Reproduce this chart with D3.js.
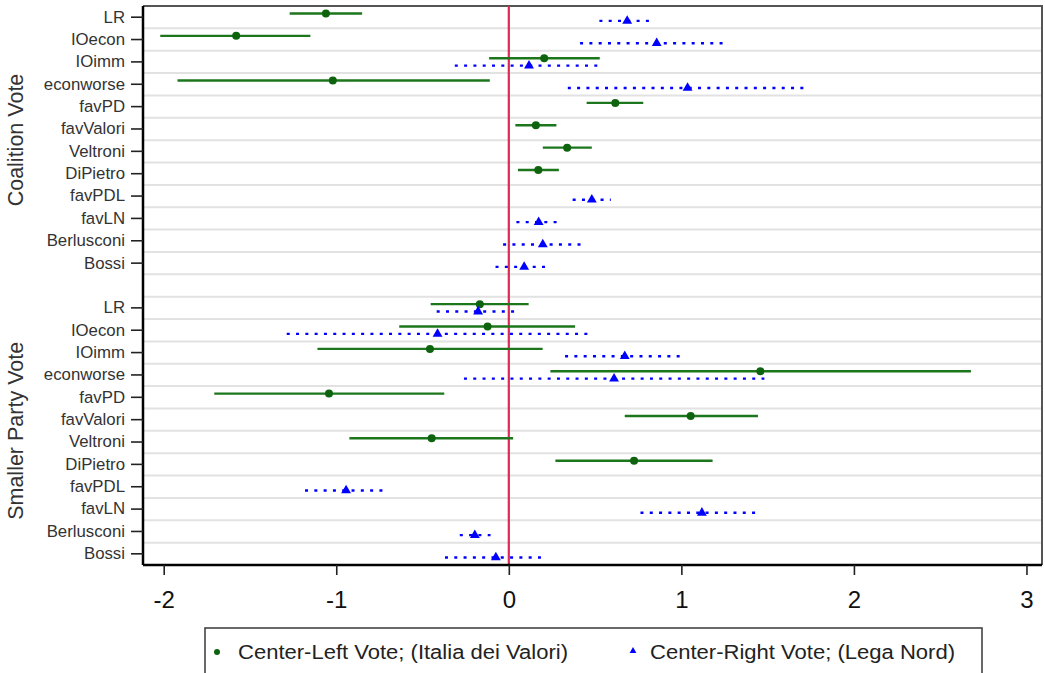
<!DOCTYPE html>
<html>
<head>
<meta charset="utf-8">
<script src="https://cdn.jsdelivr.net/npm/d3@7"></script>
<style>
  html, body { margin: 0; padding: 0; background: #fff; }
  svg { display: block; font-family: Arial, "Liberation Sans", sans-serif; }
</style>
</head>
<body>
<svg id="chart" width="1045" height="673"></svg>
<script>
// ---------- data ----------
const variables = ["LR","IOecon","IOimm","econworse","favPD","favValori","Veltroni","DiPietro","favPDL","favLN","Berlusconi","Bossi"];
const panels = ["Coalition Vote", "Smaller Party Vote"];
const xTicks = [-2, -1, 0, 1, 2, 3];
const xTickLabels = ["-2", "-1", "0", "1", "2", "3"];
const seriesNames = ["Center-Left Vote; (Italia dei Valori)", "Center-Right Vote; (Lega Nord)"];

// [estimate, lower, upper]; null = not estimated
const centerLeftCoalition = [
  [-1.06, -1.27, -0.85], [-1.58, -2.02, -1.15], [0.205, -0.114, 0.527], [-1.02, -1.92, -0.11],
  [0.617, 0.451, 0.779], [0.157, 0.038, 0.276], [0.338, 0.197, 0.481], [0.171, 0.053, 0.290],
  null, null, null, null
];
const centerRightCoalition = [
  [0.686, 0.525, 0.823], [0.857, 0.413, 1.270], [0.117, -0.313, 0.537], [1.036, 0.342, 1.738],
  null, null, null, null,
  [0.481, 0.370, 0.591], [0.173, 0.044, 0.290], [0.197, -0.033, 0.425], [0.089, -0.077, 0.223]
];
const centerLeftSmaller = [
  [-0.168, -0.453, 0.115], [-0.123, -0.635, 0.384], [-0.457, -1.109, 0.196], [1.458, 0.241, 2.678],
  [-1.042, -1.707, -0.374], [1.054, 0.672, 1.444], [-0.447, -0.924, 0.025], [0.726, 0.270, 1.181],
  null, null, null, null
];
const centerRightSmaller = [
  [-0.178, -0.418, 0.049], [-0.413, -1.287, 0.457], [0.672, 0.326, 1.014], [0.610, -0.260, 1.481],
  null, null, null, null,
  [-0.943, -1.181, -0.708], [1.119, 0.763, 1.453], [-0.197, -0.284, -0.106], [-0.075, -0.370, 0.205]
];

// ---------- layout ----------
const GREEN = "#1c761c", BLUE = "#0000ff", RED = "#dc2a52";
const plot = { left: 143, right: 1042, top: 6, bottom: 565 };
const svg = d3.select("#chart");

const rowKeys = [];
variables.forEach(v => rowKeys.push("0|" + v));
rowKeys.push("gap");
variables.forEach(v => rowKeys.push("1|" + v));

const x = d3.scaleLinear().domain([-2.12, 3.09]).range([plot.left, plot.right]);
const y = d3.scaleBand().domain(rowKeys).range([plot.top, plot.bottom]).padding(0);
const off = 3.7;

// gridlines between rows
svg.append("g").selectAll("line")
  .data(rowKeys.slice(1))
  .join("line")
  .attr("x1", plot.left).attr("x2", plot.right)
  .attr("y1", d => y(d)).attr("y2", d => y(d))
  .attr("stroke", "#e2e2e2").attr("stroke-width", 2);

// frame top/right
svg.append("path")
  .attr("d", `M${plot.left},${plot.top}H${plot.right}V${plot.bottom}`)
  .attr("fill", "none").attr("stroke", "#555").attr("stroke-width", 2);

// zero reference line
svg.append("line")
  .attr("x1", x(0)).attr("x2", x(0))
  .attr("y1", plot.top).attr("y2", plot.bottom)
  .attr("stroke", RED).attr("stroke-width", 2.2);

// build series
const series = [
  { name: "cl", color: GREEN, dy: -off, panels: [centerLeftCoalition, centerLeftSmaller] },
  { name: "cr", color: BLUE, dy: off, panels: [centerRightCoalition, centerRightSmaller] }
];

series.forEach(s => {
  const pts = [];
  s.panels.forEach((arr, p) => arr.forEach((d, i) => {
    if (d) pts.push({ key: p + "|" + variables[i], est: d[0], lo: d[1], hi: d[2] });
  }));
  const g = svg.append("g");
  g.selectAll("line").data(pts).join("line")
    .attr("x1", d => x(d.lo)).attr("x2", d => x(d.hi))
    .attr("y1", d => y(d.key) + y.bandwidth() / 2 + s.dy)
    .attr("y2", d => y(d.key) + y.bandwidth() / 2 + s.dy)
    .attr("stroke", s.color)
    .attr("stroke-width", 2.4)
    .attr("stroke-dasharray", s.name === "cl" ? null : "3,6.3");
  if (s.name === "cl") {
    g.selectAll("circle").data(pts).join("circle")
      .attr("cx", d => x(d.est))
      .attr("cy", d => y(d.key) + y.bandwidth() / 2 + s.dy)
      .attr("r", 4).attr("fill", "#0e640e");
  } else {
    g.selectAll("path").data(pts).join("path")
      .attr("transform", d => `translate(${x(d.est)},${y(d.key) + y.bandwidth() / 2 + s.dy})`)
      .attr("d", d3.symbol(d3.symbolTriangle, 42)())
      .attr("fill", BLUE);
  }
});

// y axis
const yAxis = d3.axisLeft(y)
  .tickValues(rowKeys.filter(k => k !== "gap"))
  .tickFormat(k => k.split("|")[1])
  .tickSize(12).tickPadding(6);
const gy = svg.append("g").attr("transform", `translate(${plot.left},0)`).call(yAxis);
gy.select(".domain").attr("stroke", "#000").attr("stroke-width", 2.5)
  .attr("d", `M0,${plot.top}V${plot.bottom}`);
gy.selectAll(".tick line").attr("stroke", "#222").attr("stroke-width", 1.6);
gy.selectAll(".tick text").attr("font-size", 16.8).attr("fill", "#333")
  .attr("font-family", "Arial, 'Liberation Sans', sans-serif");

// x axis
const xAxis = d3.axisBottom(x).tickValues(xTicks)
  .tickFormat((d, i) => xTickLabels[i]).tickSize(10).tickPadding(16);
const gx = svg.append("g").attr("transform", `translate(0,${plot.bottom})`).call(xAxis);
gx.select(".domain").attr("stroke", "#000").attr("stroke-width", 2.5)
  .attr("d", `M${plot.left},0H${plot.right}`);
gx.selectAll(".tick line").attr("stroke", "#222").attr("stroke-width", 1.6);
gx.selectAll(".tick text").attr("font-size", 24).attr("fill", "#111")
  .attr("font-family", "Arial, 'Liberation Sans', sans-serif");

// panel titles
panels.forEach((p, i) => {
  const first = y(i + "|" + variables[0]);
  const cy = i === 0 ? 140 : (first + plot.bottom) / 2;
  svg.append("text")
    .attr("transform", `translate(23,${cy}) rotate(-90)`)
    .attr("text-anchor", "middle")
    .attr("font-size", 21.5).attr("fill", "#333")
    .text(p);
});

// legend
const lg = svg.append("g");
lg.append("rect").attr("x", 205).attr("y", 628).attr("width", 777).attr("height", 60)
  .attr("fill", "#fff").attr("stroke", "#444").attr("stroke-width", 1.6);
lg.append("circle").attr("cx", 217).attr("cy", 652).attr("r", 3).attr("fill", "#0e640e");
lg.append("text").attr("x", 238).attr("y", 659).attr("font-size", 20).attr("fill", "#222")
  .attr("textLength", 330).attr("lengthAdjust", "spacingAndGlyphs").text(seriesNames[0]);
lg.append("path").attr("transform", "translate(633,651)")
  .attr("d", d3.symbol(d3.symbolTriangle, 20)()).attr("fill", BLUE);
lg.append("text").attr("x", 650).attr("y", 659).attr("font-size", 20).attr("fill", "#222")
  .attr("textLength", 305).attr("lengthAdjust", "spacingAndGlyphs").text(seriesNames[1]);
</script>
</body>
</html>
